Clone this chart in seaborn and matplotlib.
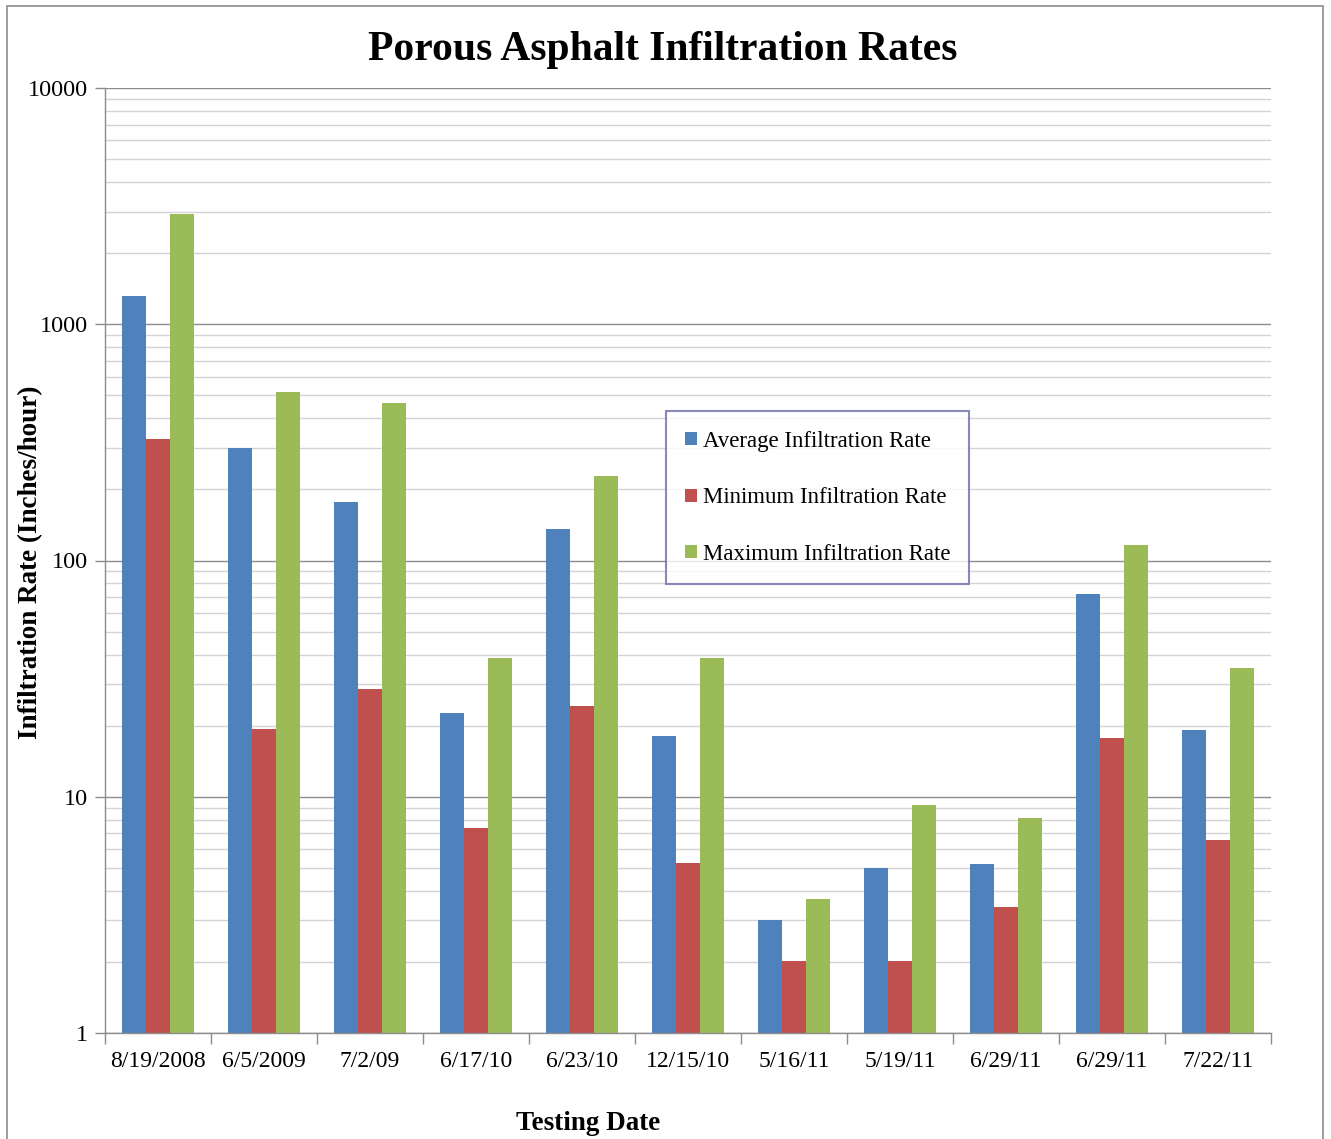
import numpy as np
import pandas as pd
import matplotlib
matplotlib.use("Agg")
import matplotlib.pyplot as plt
import matplotlib.ticker as mticker
from matplotlib.patches import Rectangle
import seaborn as sns

dates = ["8/19/2008", "6/5/2009", "7/2/09", "6/17/10", "6/23/10", "12/15/10",
         "5/16/11", "5/19/11", "6/29/11", "6/29/11", "7/22/11"]
average = [1315, 299, 177, 22.6, 136, 18.1, 3.01, 4.99, 5.19, 72.1, 19.2]
minimum = [326, 19.3, 28.6, 7.37, 24.2, 5.24, 2.02, 2.02, 3.41, 17.7, 6.56]
maximum = [2924, 516, 464, 38.6, 228, 38.6, 3.69, 9.22, 8.13, 116, 35.0]
series_names = ["Average Infiltration Rate", "Minimum Infiltration Rate", "Maximum Infiltration Rate"]
colors = ["#4F81BD", "#C0504D", "#9BBB59"]

rows = []
for name, vals in zip(series_names, [average, minimum, maximum]):
    for i, v in enumerate(vals):
        rows.append({"pos": i, "series": name, "value": v})
df = pd.DataFrame(rows)

sns.set_theme(style="white")
plt.rcParams["font.family"] = ["Liberation Serif", "DejaVu Serif"]
plt.rcParams["text.color"] = "black"
plt.rcParams["axes.labelcolor"] = "black"
plt.rcParams["xtick.color"] = "black"
plt.rcParams["ytick.color"] = "black"

W, H = 1331, 1139
fig = plt.figure(figsize=(W / 100, H / 100), dpi=100)
ax = fig.add_axes([105 / W, 1 - 1033 / H, (1271 - 105) / W, (1033 - 88) / H])

sns.barplot(data=df, x="pos", y="value", hue="series", hue_order=series_names,
            palette=colors, width=0.67, saturation=1, ax=ax, log_scale=(False, True),
            edgecolor="none", linewidth=0)

ax.set_yscale("log")
ax.set_ylim(1, 10000)
ax.set_xlim(-0.5, len(dates) - 0.5)

# y ticks
ax.yaxis.set_major_locator(mticker.FixedLocator([1, 10, 100, 1000, 10000]))
ax.yaxis.set_major_formatter(mticker.FixedFormatter(["1", "10", "100", "1000", "10000"]))
ax.yaxis.set_minor_locator(mticker.LogLocator(base=10, subs=np.arange(2, 10)))
ax.yaxis.set_minor_formatter(mticker.NullFormatter())
ax.grid(True, which="major", axis="y", color="#8C8C8C", linewidth=1.0)
ax.grid(True, which="minor", axis="y", color="#D4D4D4", linewidth=1.0)
ax.set_axisbelow(True)
ax.tick_params(axis="y", which="major", length=7, width=1, color="#8C8C8C",
               labelcolor="black", labelsize=17.5, pad=5, left=True, direction="out")
ax.tick_params(axis="y", which="minor", length=0)

# x ticks at boundaries, labels at centers
n = len(dates)
ax.xaxis.set_major_locator(mticker.FixedLocator(np.arange(-0.5, n, 1.0)))
ax.xaxis.set_major_formatter(mticker.NullFormatter())
ax.xaxis.set_minor_locator(mticker.FixedLocator(np.arange(n)))
ax.xaxis.set_minor_formatter(mticker.FixedFormatter(dates))
ax.tick_params(axis="x", which="major", length=8, width=1, color="#8C8C8C",
               bottom=True, direction="out")
ax.tick_params(axis="x", which="minor", length=0, labelsize=17, pad=13,
               labelcolor="black")

for s in ["top", "right"]:
    ax.spines[s].set_visible(False)
for s in ["left", "bottom"]:
    ax.spines[s].set_color("#8C8C8C")
    ax.spines[s].set_linewidth(1.0)

ax.set_xlabel("Testing Date", fontsize=19.5, fontweight="bold", color="black")
ax.set_ylabel("Infiltration Rate (Inches/hour)", fontsize=19.5, fontweight="bold", color="black")
ax.xaxis.set_label_coords((588 - 105) / 1166, (1033 - 1123) / 945)
ax.yaxis.set_label_coords((31 - 105) / 1166, (1033 - 562) / 945)
ax.xaxis.label.set_va("center")
ax.yaxis.label.set_va("center")

fig.suptitle("Porous Asphalt Infiltration Rates", fontsize=30, fontweight="bold",
             x=663 / W, y=1 - 50 / H, va="center", color="black")

handles, labels = ax.get_legend_handles_labels()
leg = ax.legend(handles, labels, loc="upper left", bbox_to_anchor=(0.481, 0.658),
                fontsize=16.5, frameon=True, fancybox=False, labelspacing=1.55,
                handlelength=0.5, handleheight=0.5, handletextpad=0.25,
                borderpad=0.85, borderaxespad=0)
leg.get_frame().set_edgecolor("#6B6BA8")
leg.get_frame().set_linewidth(1.5)

fig.patches.append(Rectangle((7 / W, -0.01), (1323 - 7) / W, 1 - 6 / H + 0.01,
                             transform=fig.transFigure, fill=False,
                             edgecolor="#8C8C8C", linewidth=1.2))

fig.savefig("out.png", dpi=100)
